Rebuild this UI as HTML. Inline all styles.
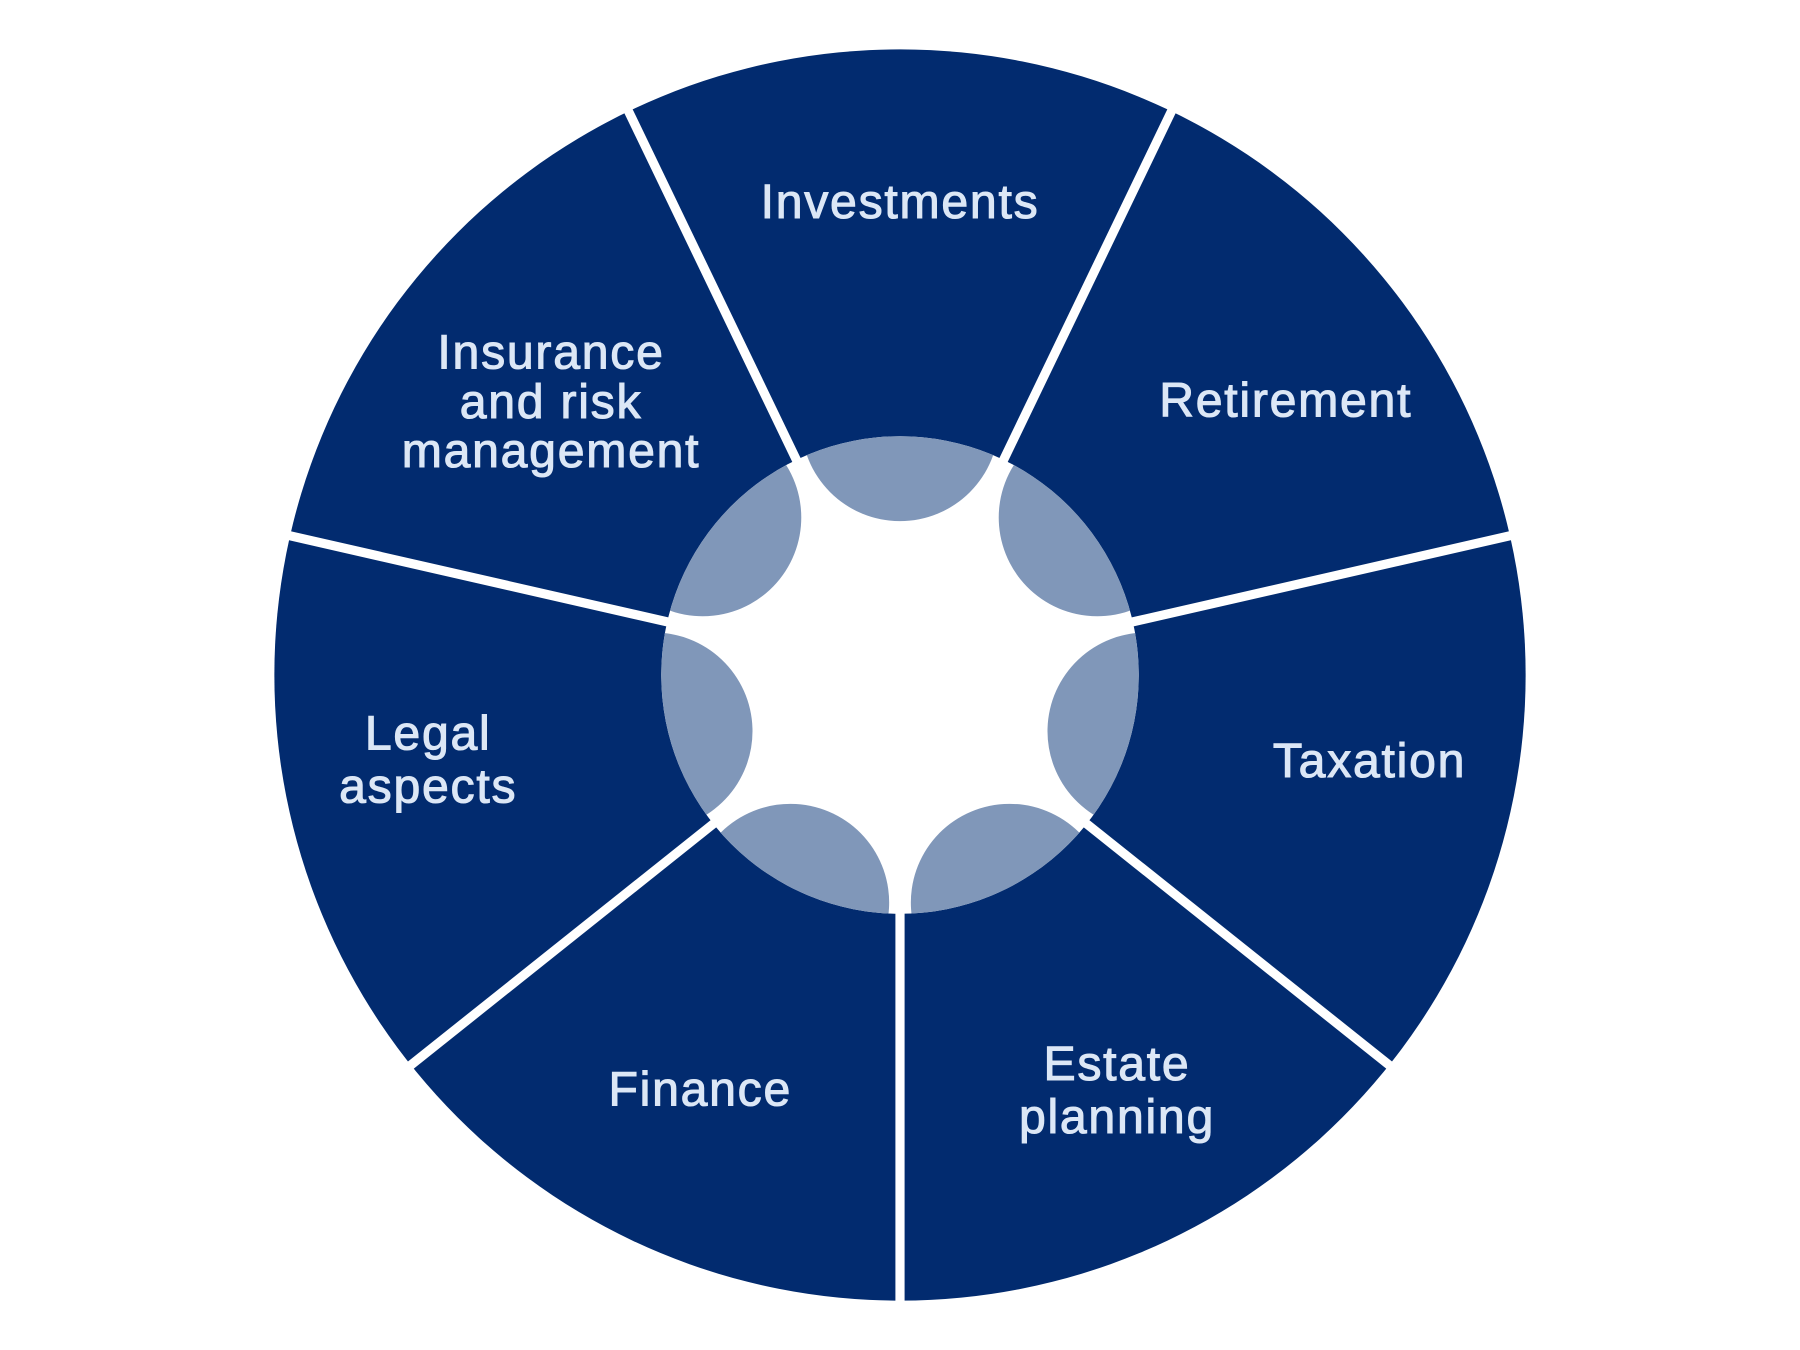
<!DOCTYPE html>
<html><head><meta charset="utf-8"><style>
html,body{margin:0;padding:0;background:#fff;}
svg{display:block;}
text{font-family:"Liberation Sans",sans-serif;font-size:42px;fill:#dce7f6;text-anchor:middle;stroke:#dce7f6;stroke-width:0.9;letter-spacing:1.5px;}
</style></head><body>
<svg width="1800" height="1350" viewBox="0 0 1568 1176" xmlns="http://www.w3.org/2000/svg">
<defs><clipPath id="c"><circle cx="784" cy="588" r="208"/></clipPath></defs>
<circle cx="784" cy="588" r="545" fill="#022b6f"/>
<circle cx="784" cy="588" r="208" fill="#fff"/>
<g clip-path="url(#c)" fill="#8097b9">
<circle cx="784" cy="368" r="86" transform="rotate(0 784 588)"/>
<circle cx="784" cy="368" r="86" transform="rotate(51.4286 784 588)"/>
<circle cx="784" cy="368" r="86" transform="rotate(102.857 784 588)"/>
<circle cx="784" cy="368" r="86" transform="rotate(154.286 784 588)"/>
<circle cx="784" cy="368" r="86" transform="rotate(205.714 784 588)"/>
<circle cx="784" cy="368" r="86" transform="rotate(257.143 784 588)"/>
<circle cx="784" cy="368" r="86" transform="rotate(308.571 784 588)"/>
</g>
<g stroke="#fff" stroke-width="8">
<line x1="784" y1="790" x2="784" y2="1150" transform="rotate(0 784 588)"/>
<line x1="784" y1="790" x2="784" y2="1150" transform="rotate(51.4286 784 588)"/>
<line x1="784" y1="790" x2="784" y2="1150" transform="rotate(102.857 784 588)"/>
<line x1="784" y1="790" x2="784" y2="1150" transform="rotate(154.286 784 588)"/>
<line x1="784" y1="790" x2="784" y2="1150" transform="rotate(205.714 784 588)"/>
<line x1="784" y1="790" x2="784" y2="1150" transform="rotate(257.143 784 588)"/>
<line x1="784" y1="790" x2="784" y2="1150" transform="rotate(308.571 784 588)"/>
</g>
<text x="784" y="190">Investments</text>
<text x="1120" y="363">Retirement</text>
<text x="1193" y="677">Taxation</text>
<text x="973" y="941">Estate</text>
<text x="973" y="987">planning</text>
<text x="610" y="963">Finance</text>
<text x="373" y="653">Legal</text>
<text x="373" y="699">aspects</text>
<text x="480" y="321">Insurance</text>
<text x="480" y="364">and risk</text>
<text x="480" y="407">management</text>
</svg>
</body></html>
